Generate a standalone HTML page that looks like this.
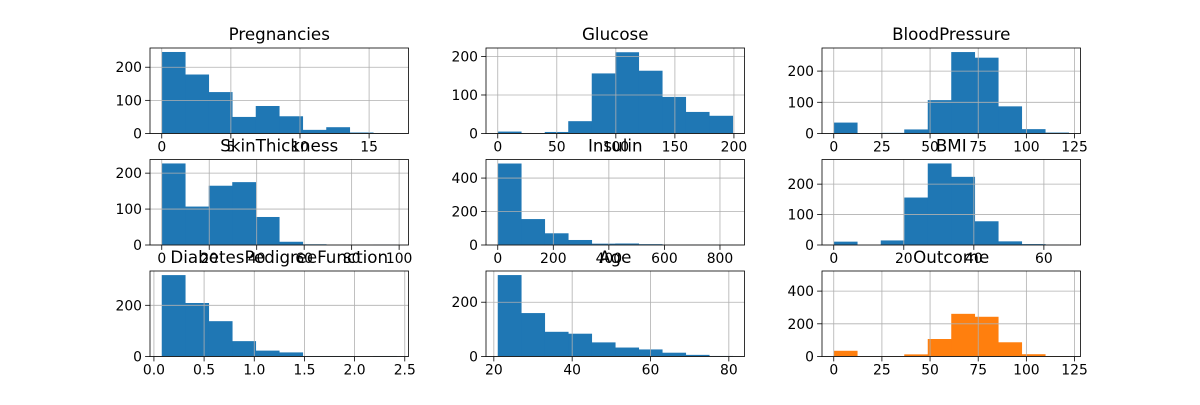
<!DOCTYPE html>
<html><head><meta charset="utf-8"><style>
html,body{margin:0;padding:0;background:#fff;}
svg text{font-family:"DejaVu Sans","Liberation Sans",sans-serif;}
</style></head><body>
<svg id="chart" width="1200" height="400" viewBox="0 0 1200 400" xmlns="http://www.w3.org/2000/svg"></svg>
<script>
const titles = ["Pregnancies","Glucose","BloodPressure","SkinThickness","Insulin","BMI","DiabetesPedigreeFunction","Age","Outcome"];
const pregnanciesCounts = [246,178,125,50,83,52,11,19,3,1];
const glucoseCounts = [5,0,4,32,156,211,163,95,56,46];
const bloodPressureCounts = [35,1,2,13,107,261,243,87,14,3];
const skinThicknessCounts = [227,107,165,175,78,9,2,0,0,1];
const insulinCounts = [487,155,70,30,8,9,5,1,2,1];
const bmiCounts = [11,0,15,156,268,224,78,12,3,1];
const dpfCounts = [318,209,138,60,23,16,2,2,0,2];
const ageCounts = [300,160,91,84,52,33,26,14,6,2];
const outcomeCounts = [35,1,2,13,107,261,243,87,14,3];
const binRanges = [[0,17],[0,199],[0,122],[0,99],[0,846],[0,67.1],[0.078,2.42],[21,81],[0,122]];
const yMaxes = [258,222,274,238,511,281,334,315,523];
const xTicks = [[0,5,10,15],[0,50,100,150,200],[0,25,50,75,100,125],[0,20,40,60,80,100],[0,200,400,600,800],[0,20,40,60],[0,0.5,1.0,1.5,2.0,2.5],[20,40,60,80],[0,25,50,75,100,125]];
const xTickLabels = [["0","5","10","15"],["0","50","100","150","200"],["0","25","50","75","100","125"],["0","20","40","60","80","100"],["0","200","400","600","800"],["0","20","40","60"],["0.0","0.5","1.0","1.5","2.0","2.5"],["20","40","60","80"],["0","25","50","75","100","125"]];
const yTicks = [[0,100,200],[0,100,200],[0,100,200],[0,100,200],[0,200,400],[0,100,200],[0,200],[0,200],[0,200,400]];
const allCounts = [pregnanciesCounts,glucoseCounts,bloodPressureCounts,skinThicknessCounts,insulinCounts,bmiCounts,dpfCounts,ageCounts,outcomeCounts];

const NS="http://www.w3.org/2000/svg";
const svg=document.getElementById('chart');
const colX=[150,486,822], rowY=[48,159.5,271], W=258.5, H=85.5;
function mk(tag,attrs,parent){const e=document.createElementNS(NS,tag);for(const k in attrs)e.setAttribute(k,attrs[k]);parent.appendChild(e);return e;}
for(let i=0;i<9;i++){
  const L=colX[i%3], T=rowY[Math.floor(i/3)], B=T+H, R=L+W;
  const g=mk('g',{},svg);
  
  
  const counts=allCounts[i], lo=binRanges[i][0], hi=binRanges[i][1];
  const pad=(hi-lo)*0.05, x0=lo-pad, x1=hi+pad;
  const sx=v=>L+(v-x0)/(x1-x0)*W, sy=v=>B-v/yMaxes[i]*H;
  const color=i===8?'#ff7f0e':'#1f77b4';
  const bw=(hi-lo)/counts.length;
  counts.forEach((c,j)=>{
    const r=mk('rect',{x:sx(lo+j*bw),y:sy(c),width:sx(lo+(j+1)*bw)-sx(lo+j*bw)+0.3,height:B-sy(c),fill:color},g);
    
    
  });
  xTicks[i].forEach((t,k)=>{
    const x=sx(t);
    mk('line',{x1:x,x2:x,y1:T,y2:B,stroke:'#b0b0b0','stroke-width':0.8},g);
    mk('line',{x1:x,x2:x,y1:B,y2:B+4.9,stroke:'#000','stroke-width':0.8},g);
    const tx=mk('text',{x:x,y:B+18,'font-size':13.9,'text-anchor':'middle',fill:'#000'},g);
    tx.textContent=xTickLabels[i][k];
    
    
  });
  yTicks[i].forEach(t=>{
    const y=sy(t);
    mk('line',{x1:L,x2:R,y1:y,y2:y,stroke:'#b0b0b0','stroke-width':0.8},g);
    mk('line',{x1:L-4.9,x2:L,y1:y,y2:y,stroke:'#000','stroke-width':0.8},g);
    const tx=mk('text',{x:L-8,y:y+5,'font-size':13.9,'text-anchor':'end',fill:'#000'},g);
    tx.textContent=String(t);
    
    
  });
  mk('rect',{x:L,y:T,width:W,height:H,fill:'none',stroke:'#000','stroke-width':0.8},g);
  const tt=mk('text',{x:L+W/2,y:T-8,'font-size':16.7,'text-anchor':'middle',fill:'#000'},g);
  tt.textContent=titles[i];
  
  
}
</script>
</body></html>
